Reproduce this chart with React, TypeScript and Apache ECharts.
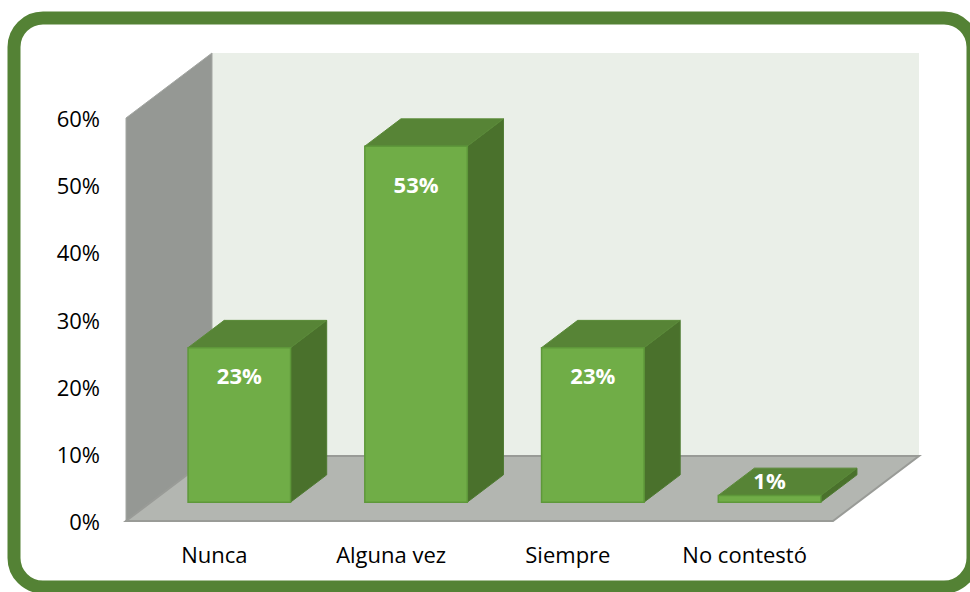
import React, { useEffect, useRef } from "react";
import * as echarts from "echarts";

const categories: string[] = ["Nunca", "Alguna vez", "Siempre", "No contestó"];
const values: number[] = [0.23, 0.53, 0.23, 0.01];
const yMax = 0.6;
const yInterval = 0.1;

const DEPTH_X = 86;
const DEPTH_Y = -65;
const BAR_START = 0.29;
const BAR_DEPTH = 0.42;
const BAR_WIDTH = 0.58;

export default function App() {
  const ref = useRef<HTMLDivElement>(null);
  useEffect(() => {
    if (!ref.current) return;
    const chart = echarts.init(ref.current, null, { renderer: "svg" });
    const option: any = {
      animation: false,
      backgroundColor: "#ffffff",
      grid: { left: 126, right: 137, top: 118, bottom: 71 },
      xAxis: {
        type: "category",
        data: categories,
        axisLine: { show: false },
        axisTick: { show: false },
        axisLabel: {
          margin: 22,
          fontFamily: "Open Sans",
          fontSize: 22,
          color: "#000000",
        },
      },
      yAxis: {
        type: "value",
        min: 0,
        max: yMax,
        interval: yInterval,
        axisLine: { show: false },
        axisTick: { show: false },
        splitLine: { show: false },
        axisLabel: {
          margin: 26,
          fontFamily: "Open Sans",
          fontSize: 22,
          color: "#000000",
          formatter: (v: number) => Math.round(v * 100) + "%",
        },
      },
      graphic: [
        {
          type: "rect",
          shape: { x: 14, y: 18, width: 959, height: 569, r: 29 },
          style: { fill: "none", stroke: "#548235", lineWidth: 13 },
          silent: true,
        },
      ],
      series: [
        {
          type: "custom",
          name: "walls",
          data: [[0, 0]],
          clip: false,
          z: 1,
          renderItem: (params: any) => {
            const c = params.coordSys;
            const x0 = c.x, y0 = c.y, w = c.width, h = c.height;
            const yb = y0 + h;
            return {
              type: "group",
              children: [
                {
                  type: "rect",
                  shape: { x: x0 + DEPTH_X, y: y0 + DEPTH_Y, width: w, height: h },
                  style: { fill: "#EAEFE8" },
                },
                {
                  type: "polygon",
                  shape: {
                    points: [
                      [x0, yb],
                      [x0, y0],
                      [x0 + DEPTH_X, y0 + DEPTH_Y],
                      [x0 + DEPTH_X, yb + DEPTH_Y],
                    ],
                  },
                  style: { fill: "#959894", stroke: "#A3A6A2", lineWidth: 1 },
                },
                {
                  type: "polygon",
                  shape: {
                    points: [
                      [x0, yb],
                      [x0 + w, yb],
                      [x0 + w + DEPTH_X, yb + DEPTH_Y],
                      [x0 + DEPTH_X, yb + DEPTH_Y],
                    ],
                  },
                  style: { fill: "#B3B6B1", stroke: "#999B97", lineWidth: 2 },
                },
              ],
            };
          },
        },
        {
          type: "custom",
          name: "bars",
          data: values.map((v, i) => [i, v]),
          clip: false,
          z: 2,
          renderItem: (params: any, api: any) => {
            const i = api.value(0);
            const v = api.value(1);
            const base = api.coord([i, 0]);
            const topPt = api.coord([i, v]);
            const band = api.size([1, 0])[0];
            const bw = band * BAR_WIDTH;
            const ox = DEPTH_X * BAR_START;
            const oy = DEPTH_Y * BAR_START;
            const L = base[0] + ox - bw / 2;
            const R = base[0] + ox + bw / 2;
            const B = base[1] + oy;
            const T = topPt[1] + oy;
            const dx = DEPTH_X * BAR_DEPTH;
            const dy = DEPTH_Y * BAR_DEPTH;
            const hgt = B - T;
            const labelY = hgt < 30 ? T - 15 : T + 20 + 0.05 * hgt;
            return {
              type: "group",
              children: [
                {
                  type: "polygon",
                  shape: { points: [[R, T], [R + dx, T + dy], [R + dx, B + dy], [R, B]] },
                  style: { fill: "#4A712C", stroke: "#4E7A31", lineWidth: 1 },
                },
                {
                  type: "polygon",
                  shape: { points: [[L, T], [R, T], [R + dx, T + dy], [L + dx, T + dy]] },
                  style: { fill: "#578436", stroke: "#5A8A38", lineWidth: 1 },
                },
                {
                  type: "rect",
                  shape: { x: L, y: T, width: R - L, height: hgt },
                  style: { fill: "#70AD47", stroke: "#5E983A", lineWidth: 1.5 },
                },
                {
                  type: "text",
                  x: (L + R) / 2,
                  y: labelY,
                  style: {
                    text: Math.round(v * 100) + "%",
                    fill: "#ffffff",
                    fontFamily: "Open Sans",
                    fontWeight: "bold",
                    fontSize: 22,
                    align: "center",
                    verticalAlign: "middle",
                  },
                },
              ],
            };
          },
        },
      ],
    };
    chart.setOption(option);
    return () => chart.dispose();
  }, []);
  return (
    <div
      ref={ref}
      style={{ position: "fixed", left: 0, top: 0, width: 970, height: 592 }}
    />
  );
}
